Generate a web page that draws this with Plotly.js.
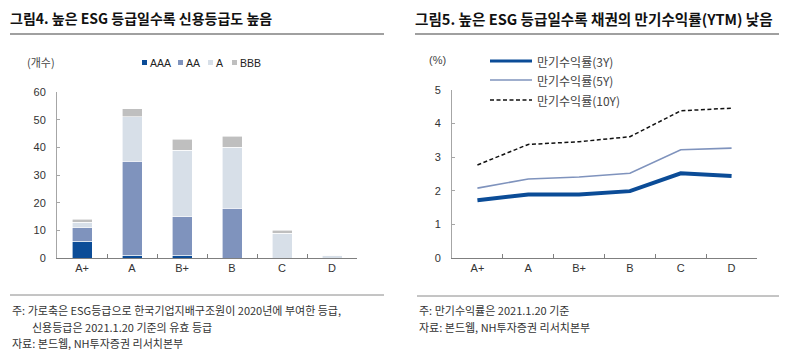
<!DOCTYPE html>
<html><head><meta charset="utf-8">
<script src="https://cdn.plot.ly/plotly-3.0.1.min.js"></script>
<style>html,body{margin:0;padding:0;background:#fff;}#chart{width:791px;height:357px;}</style>
</head><body><div id="chart"></div>
<script>
// ---- data ----
const esgGrades = ["A+", "A", "B+", "B", "C", "D"];
const countAAA = [6, 1, 1, 0, 0, 0];
const countAA  = [5, 34, 14, 18, 0, 0];
const countA   = [2, 16, 24, 22, 9, 1];
const countBBB = [1, 3, 4, 4, 1, 0];
const ytm3Y  = [1.72, 1.89, 1.89, 1.99, 2.52, 2.44];
const ytm5Y  = [2.08, 2.35, 2.41, 2.52, 3.22, 3.27];
const ytm10Y = [2.77, 3.38, 3.46, 3.61, 4.38, 4.46];
const barNames = ["AAA", "AA", "A", "BBB"];
const lineNames = ["만기수익률(3Y)", "만기수익률(5Y)", "만기수익률(10Y)"];
const leftYTicks = [0, 10, 20, 30, 40, 50, 60];
const rightYTicks = [0, 1, 2, 3, 4, 5];

const FONT = "'Liberation Sans', 'Noto Sans CJK KR', Arial, sans-serif";
const KFONT = "'Noto Sans CJK KR', 'Liberation Sans', sans-serif";
const barColors = ["#0b4c97", "#7f93bd", "#d7dfe8", "#bfbfbf"];
const barSeries = [countAAA, countAA, countA, countBBB];

const traces = [];
barSeries.forEach((vals, i) => {
  traces.push({
    type: "bar", x: esgGrades, y: vals, name: barNames[i],
    xaxis: "x", yaxis: "y",
    marker: {color: barColors[i], line: {color: "#ffffff", width: 0.6}},
    hoverinfo: "x+y+name", showlegend: false
  });
});
const lineStyles = [
  {color: "#0b4c97", width: 4, dash: "solid"},
  {color: "#7f93bd", width: 1.6, dash: "solid"},
  {color: "#111111", width: 1.5, dash: "4px,2.5px"}
];
[ytm3Y, ytm5Y, ytm10Y].forEach((vals, i) => {
  traces.push({
    type: "scatter", mode: "lines", x: esgGrades, y: vals, name: lineNames[i],
    xaxis: "x2", yaxis: "y2", line: lineStyles[i], showlegend: false
  });
});

const W = 791, H = 357;
const px = v => v / W, py = v => 1 - v / H;

const tickFont = {family: FONT, size: 11, color: "#333"};
const layout = {
  width: W, height: H,
  margin: {l: 0, r: 0, t: 0, b: 0},
  paper_bgcolor: "#fff", plot_bgcolor: "#fff",
  showlegend: false,
  barmode: "stack", bargap: 0.6,
  xaxis: {
    domain: [px(57), px(357)], anchor: "y", range: [-0.5, 5.5],
    tickfont: tickFont, showline: true, linecolor: "#7f7f7f", linewidth: 1,
    ticks: "inside", tickson: "boundaries", ticklen: 4, tickcolor: "#7f7f7f",
    showgrid: false, zeroline: false
  },
  yaxis: {
    domain: [1 - 258 / H, 1 - 92 / H], anchor: "x", range: [0, 60],
    tickvals: leftYTicks, tickfont: tickFont,
    showline: true, linecolor: "#a6a6a6", linewidth: 1,
    ticks: "inside", ticklen: 3, tickcolor: "#a6a6a6",
    showgrid: false, zeroline: false, ticklabelstandoff: 8
  },
  xaxis2: {
    domain: [px(452), px(757)], anchor: "y2", range: [-0.5, 5.5],
    tickfont: tickFont, showline: true, linecolor: "#7f7f7f", linewidth: 1,
    ticks: "inside", tickson: "boundaries", ticklen: 4, tickcolor: "#7f7f7f",
    showgrid: false, zeroline: false
  },
  yaxis2: {
    domain: [1 - 258 / H, 1 - 90 / H], anchor: "x2", range: [0, 5],
    tickvals: rightYTicks, tickfont: tickFont,
    showline: true, linecolor: "#a6a6a6", linewidth: 1,
    ticks: "inside", ticklen: 3, tickcolor: "#a6a6a6",
    showgrid: false, zeroline: false, ticklabelstandoff: 8
  },
  shapes: [
    {type: "line", xref: "paper", yref: "paper", x0: px(10), x1: px(384), y0: py(34), y1: py(34), line: {color: "#a0a0a0", width: 2}},
    {type: "line", xref: "paper", yref: "paper", x0: px(415), x1: px(779), y0: py(34), y1: py(34), line: {color: "#a0a0a0", width: 2}},
    {type: "line", xref: "paper", yref: "paper", x0: px(10), x1: px(384), y0: py(295), y1: py(295), line: {color: "#8a8a8a", width: 1}},
    {type: "line", xref: "paper", yref: "paper", x0: px(417), x1: px(779), y0: py(296), y1: py(296), line: {color: "#8a8a8a", width: 1}}
  ],
  annotations: []
};

function txt(x, y, text, opts) {
  opts = opts || {};
  layout.annotations.push({
    xref: "paper", yref: "paper", x: px(x), y: py(y), text: text, showarrow: false,
    xanchor: opts.xanchor || "left", yanchor: "middle",
    font: {family: opts.family || KFONT, size: opts.size || 11, color: opts.color || "#333"}
  });
}
// titles
txt(8, 18, "<b>그림4. 높은 ESG 등급일수록 신용등급도 높음</b>", {size: 14, color: "#111"});
txt(413, 18, "<b>그림5. 높은 ESG 등급일수록 채권의 만기수익률(YTM) 낮음</b>", {size: 14.6, color: "#111"});
// unit labels
txt(25, 62, "(개수)", {size: 11, color: "#444"});
txt(427, 60, "(%)", {size: 11, color: "#444", family: FONT});
// left legend (manual)
const legX = [142, 178, 208, 232];
barNames.forEach((n, i) => {
  layout.shapes.push({type: "rect", xref: "paper", yref: "paper",
    x0: px(legX[i]), x1: px(legX[i] + 5), y0: py(65), y1: py(60),
    fillcolor: barColors[i], line: {width: 0}});
  txt(legX[i] + 6, 62.5, n, {size: 10.5, family: FONT, color: "#222"});
});
// right legend (manual)
const legY = [61, 80, 100];
lineNames.forEach((n, i) => {
  layout.shapes.push({type: "line", xref: "paper", yref: "paper",
    x0: px(490), x1: px(532), y0: py(legY[i]), y1: py(legY[i]),
    line: {color: lineStyles[i].color, width: i === 0 ? 3 : lineStyles[i].width, dash: lineStyles[i].dash}});
  txt(535, legY[i], n, {size: 12, color: "#444"});
});
// footnotes
txt(10, 310, "주: 가로축은 ESG등급으로 한국기업지배구조원이 2020년에 부여한 등급,", {size: 11});
txt(30, 327, "신용등급은 2021.1.20 기준의 유효 등급", {size: 11});
txt(10, 343, "자료: 본드웹, NH투자증권 리서치본부", {size: 11});
txt(417, 310, "주: 만기수익률은 2021.1.20 기준", {size: 11});
txt(417, 327, "자료: 본드웹, NH투자증권 리서치본부", {size: 11});

Plotly.newPlot("chart", traces, layout, {displayModeBar: false, staticPlot: true});
</script></body></html>
